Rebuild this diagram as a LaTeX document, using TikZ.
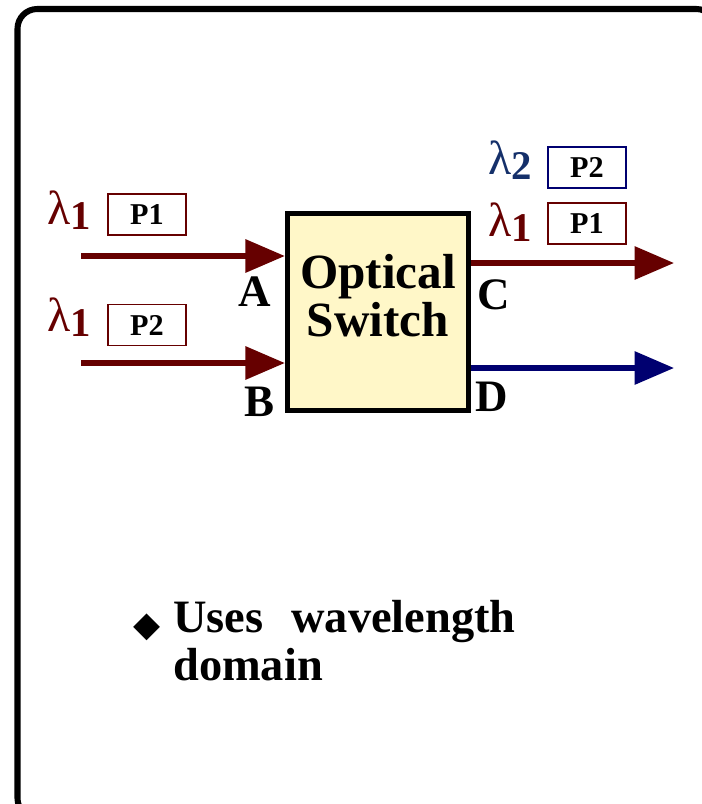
\documentclass[tikz,border=0pt]{standalone}
\usepackage{fontspec}
\setmainfont{Liberation Serif}
\newfontfamily\symfont{DejaVu Sans}
\usepackage{xcolor}
\usetikzlibrary{positioning,arrows.meta}
\definecolor{lamred}{HTML}{660000}
\definecolor{lamblue}{HTML}{15306A}
\definecolor{portblue}{HTML}{000070}
\definecolor{swfill}{HTML}{FFF7C8}
\newcommand{\lam}[1]{{\fontsize{34}{34}\selectfont λ}\raisebox{-4pt}{\bfseries\fontsize{29}{29}\selectfont #1}}

\begin{document}
\begin{tikzpicture}[
  x=0.025cm, y=-0.025cm,
  tag/.style={draw=lamred, line width=1.2pt, minimum width=55pt,
              minimum height=29pt, inner sep=0pt,
              font=\fontsize{21.5}{22}\selectfont\bfseries},
  port/.style={font=\fontsize{32}{32}\selectfont\bfseries, inner sep=0pt},
  lamlbl/.style={anchor=base west, inner sep=0pt, text=lamred},
  arr/.style={-{Triangle[length=28pt, width=23pt]}, line width=3.6pt, lamred},
]
  \useasboundingbox (0,0) rectangle (702,804);
  % Slide frame (cut off at right and bottom)
  \draw[line width=4.3pt, rounded corners=14pt] (17.5,9) rectangle (716,818);

  % Switch box
  \node[draw, line width=3.5pt, fill=swfill, minimum width=129pt,
        minimum height=140pt] (sw) at (378,312) {};
  \node[font=\fontsize{35}{34}\selectfont\bfseries, align=center,
        inner sep=0pt] (swtxt) at (378,296) {Optical\\Switch};

  % Input side
  \coordinate (inA) at (81,256);
  \coordinate (inB) at (81,363);
  \draw[arr] (inA) -- (inA -| sw.west);
  \draw[arr] (inB) -- (inB -| sw.west);
  \node[lamlbl] (lamA) at (47,224) {\lam{1}};
  \node[lamlbl] (lamB) at (47,331) {\lam{1}};
  \node[tag] (tagA) at (147,214.5) {P1};
  \node[tag] (tagB) at (147,325) {P2};
  \node[port] (portA) at (255,292) {A};
  \node[port] (portB) at (260,402) {B};

  % Output side
  \coordinate (outC) at (674,263);
  \coordinate (outD) at (674,368);
  \draw[arr] (outC -| sw.east) -- (outC);
  \draw[arr, portblue] (outD -| sw.east) -- (outD);
  \node[lamlbl, text=lamblue] (lamD) at (488,174) {\lam{2}};
  \node[lamlbl] (lamC) at (488,236) {\lam{1}};
  \node[tag, draw=portblue] (tagD) at (587,167.5) {P2};
  \node[tag] (tagC) at (587,223.5) {P1};
  \node[port] (portC) at (494,295) {C};
  \node[port] (portD) at (492,397) {D};

  % Bullet
  \node[inner sep=0pt, font=\symfont\fontsize{25}{25}\selectfont] (bul) at (147.5,627) {◆};
  \node[anchor=base west, align=left, inner sep=0pt,
        font=\fontsize{33}{34}\selectfont\bfseries] (note) at (173,680)
    {Uses\hspace{0.6em}wavelength\\domain};
\end{tikzpicture}
\end{document}
